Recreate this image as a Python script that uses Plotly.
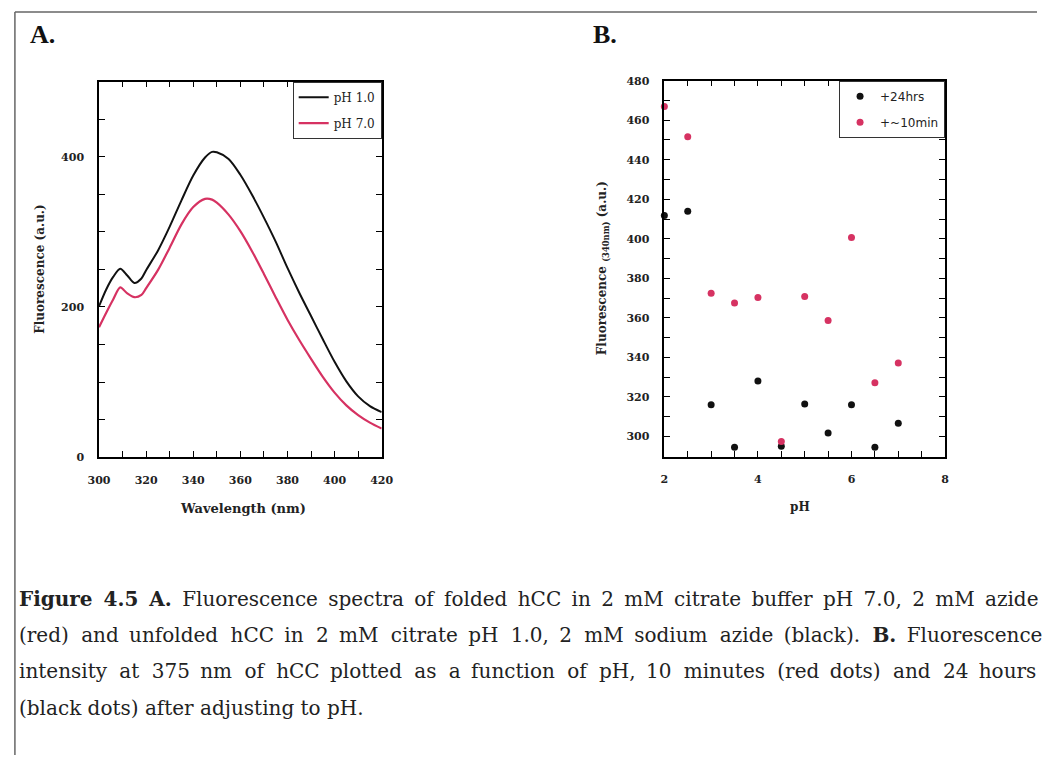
import plotly.graph_objects as go

PAGE_W, PAGE_H = 1057, 770
OFF = 8  # page body margin
W, H = PAGE_W - OFF, PAGE_H - OFF

# ---- Panel A data: fluorescence spectra ----
wavelength = [300, 303, 306, 309, 312, 315, 318, 320, 325, 330, 335, 340, 345, 348, 350,
              355, 360, 365, 370, 375, 380, 385, 390, 395, 400, 405, 410, 415, 420]
ph1_fluor = [201, 223, 240, 251, 242, 232, 238, 249, 275, 307, 342, 375, 399, 406.5, 406,
             397, 376, 349, 319, 287, 252, 219, 188, 157, 127, 101, 81, 68, 60]
ph7_fluor = [173, 192, 210, 226, 218, 213, 216, 225, 249, 279, 310, 333, 344, 343, 339,
             323, 301, 274, 244, 213, 183, 156, 131, 107, 86, 69, 56, 46, 38]

# ---- Panel B data: fluorescence vs pH ----
ph_values = [2, 2.5, 3, 3.5, 4, 4.5, 5, 5.5, 6, 6.5, 7]
fluor_24hrs = [411.8, 414, 316, 294.5, 328, 295, 316.4, 301.7, 316, 294.5, 306.6]
fluor_10min = [467, 451.6, 372.5, 367.5, 370.3, 297.4, 370.8, 358.7, 400.7, 327.2, 337.2]

# ---- tick labels ----
a_xtickvals = [300, 310, 320, 330, 340, 350, 360, 370, 380, 390, 400, 410, 420]
a_xticktext = ["300", " ", "320", " ", "340", " ", "360", " ", "380", " ", "400", " ", "420"]
a_ytickvals = [0, 50, 100, 150, 200, 250, 300, 350, 400, 450]
a_yticktext = ["0", " ", " ", " ", "200", " ", " ", " ", "400", " "]
b_xtickvals = [2, 2.5, 3, 3.5, 4, 4.5, 5, 5.5, 6, 6.5, 7, 7.5, 8]
b_xticktext = ["2", " ", " ", " ", "4", " ", " ", " ", "6", " ", " ", " ", "8"]
b_ytickvals = [300, 310, 320, 330, 340, 350, 360, 370, 380, 390, 400, 410, 420, 430, 440, 450,
               460, 470, 480]
b_yticktext = ["300", " ", "320", " ", "340", " ", "360", " ", "380", " ", "400", " ", "420", " ",
               "440", " ", "460", " ", "480"]

caption_lines = [
    "<b>Figure 4.5 A.</b> Fluorescence spectra of folded hCC in 2 mM citrate buffer pH 7.0, 2 mM azide",
    "(red) and unfolded hCC in 2 mM citrate pH 1.0, 2 mM sodium azide (black). <b>B.</b> Fluorescence",
    "intensity at 375 nm of hCC plotted as a function of pH, 10 minutes (red dots) and 24 hours",
    "(black dots) after adjusting to pH.",
]
# extra inter-word spacing per caption line (justified text):
# (space added to every gap, space added to some gaps, period of the pattern)
caption_extra_space = [("\u2009", "", 2), ("\u2009", "\u200a", 2), ("\u2009", "\u200a", 3),
                       ("", "", 1)]

RED = "#d63262"
BLACK = "#111111"
SERIF = "DejaVu Serif"


def px(x):
    return (x - OFF) / W


def py(y):
    return 1 - (y - OFF) / H


def justify(line, extra):
    base, alt, period = extra
    if not base and not alt:
        return line
    parts = line.split(" ")
    out = parts[0]
    for i, p in enumerate(parts[1:]):
        add_alt = (i % 2 == 0) if period == 2 else (i % period != period - 1)
        out += " " + base + (alt if add_alt else "") + p
    return out


fig = go.Figure()

fig.add_trace(go.Scatter(x=wavelength, y=ph1_fluor, mode="lines", name="pH 1.0",
                         line=dict(color=BLACK, width=2, shape="spline", smoothing=0.8),
                         xaxis="x", yaxis="y", legend="legend", legendgroup="a1"))
fig.add_trace(go.Scatter(x=wavelength, y=ph7_fluor, mode="lines", name="pH 7.0",
                         line=dict(color=RED, width=2.2, shape="spline", smoothing=0.8),
                         xaxis="x", yaxis="y", legend="legend", legendgroup="a2"))

fig.add_trace(go.Scatter(x=ph_values, y=fluor_24hrs, mode="markers", name="+24hrs",
                         marker=dict(color=BLACK, size=7), cliponaxis=False,
                         xaxis="x2", yaxis="y2", legend="legend2", legendgroup="b1"))
fig.add_trace(go.Scatter(x=ph_values, y=fluor_10min, mode="markers", name="+~10min",
                         marker=dict(color=RED, size=7), cliponaxis=False,
                         xaxis="x2", yaxis="y2", legend="legend2", legendgroup="b2"))

axis_common = dict(showline=True, linecolor="black", linewidth=1.5, mirror="ticks",
                   ticks="inside", ticklen=6, tickwidth=1.3, tickcolor="black",
                   showgrid=False, zeroline=False, tickmode="array",
                   tickfont=dict(family=SERIF, size=11, color="#222", weight="bold"))

fig.update_layout(
    width=W, height=H,
    margin=dict(l=0, r=0, t=0, b=0),
    paper_bgcolor="white", plot_bgcolor="white",
    xaxis=dict(domain=[px(98), px(387)], range=[300, 420], anchor="y",
               tickvals=a_xtickvals, ticktext=a_xticktext, ticklabelstandoff=12, **axis_common),
    yaxis=dict(domain=[py(467), py(85)], range=[0, 500], anchor="x",
               tickvals=a_ytickvals, ticktext=a_yticktext, ticklabelstandoff=11, **axis_common),
    xaxis2=dict(domain=[px(676), px(963)], range=[2, 8], anchor="y2",
                tickvals=b_xtickvals, ticktext=b_xticktext, ticklabelstandoff=11, **axis_common),
    yaxis2=dict(domain=[py(467), py(84)], range=[289.5, 480], anchor="x2",
                tickvals=b_ytickvals, ticktext=b_yticktext, ticklabelstandoff=11, **axis_common),
    legend=dict(x=px(387), xanchor="right", y=py(85), yanchor="top",
                bgcolor="white", bordercolor="#333", borderwidth=1,
                font=dict(family=SERIF, size=12, color="#222"),
                tracegroupgap=7, itemwidth=30),
    legend2=dict(x=px(963), xanchor="right", y=py(84), yanchor="top",
                 bgcolor="white", bordercolor="#333", borderwidth=1,
                 font=dict(family="DejaVu Sans", size=12, color="#222"),
                 tracegroupgap=7, itemwidth=30),
    showlegend=True,
)

annotations = [
    dict(text="<b>A.</b>", x=px(25), y=py(37), xanchor="left", yanchor="middle",
         font=dict(family="Liberation Serif", size=26, color="#111")),
    dict(text="<b>B.</b>", x=px(601), y=py(37), xanchor="left", yanchor="middle",
         font=dict(family="Liberation Serif", size=26, color="#111")),
    dict(text="<b>Wavelength (nm)</b>", x=px(245), y=py(519), xanchor="center", yanchor="middle",
         font=dict(family=SERIF, size=13, color="#222")),
    dict(text="<b>pH</b>", x=px(815), y=py(518), xanchor="center", yanchor="middle",
         font=dict(family=SERIF, size=12, color="#222")),
    dict(text="<b>Fluorescence (a.u.)</b>", x=px(38), y=py(275), xanchor="center", yanchor="middle",
         textangle=-90, font=dict(family=SERIF, size=12, color="#222")),
    dict(text="<b>Fluorescence <sub>(340nm)</sub> (a.u.)</b>", x=px(614), y=py(275),
         xanchor="center", yanchor="middle", textangle=-90,
         font=dict(family=SERIF, size=12, color="#222")),
]
caption_y = [611, 648, 685, 722]
for line, extra, yy in zip(caption_lines, caption_extra_space, caption_y):
    annotations.append(dict(text=justify(line, extra), x=px(14), y=py(yy),
                            xanchor="left", yanchor="middle",
                            font=dict(family="DejaVu Serif", size=20, color="#222")))
for a in annotations:
    a.update(xref="paper", yref="paper", showarrow=False)
fig.update_layout(annotations=annotations)

fig.update_layout(shapes=[
    dict(type="line", xref="paper", yref="paper", x0=px(12), x1=1, y0=py(14), y1=py(14),
         line=dict(color="#666", width=1.5)),
    dict(type="line", xref="paper", yref="paper", x0=px(12), x1=px(12), y0=py(14), y1=0,
         line=dict(color="#666", width=1.5)),
])

fig.write_html("out.html")
